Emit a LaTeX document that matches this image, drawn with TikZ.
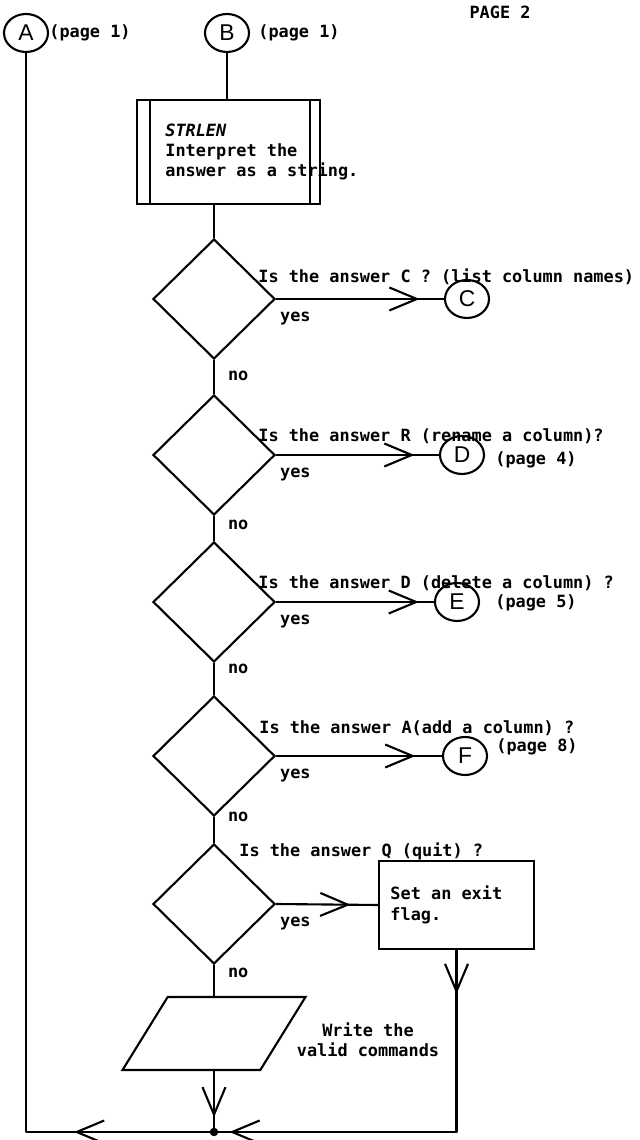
\documentclass[tikz,border=0pt]{standalone}
\usepackage{fontspec}
\setmonofont{DejaVu Sans Mono}
\setsansfont{Liberation Sans}
\usetikzlibrary{shapes.geometric,arrows.meta,decorations.markings}
\tikzset{
  flow/.style={line width=1.2pt, draw=black, line join=round},
  decision/.style={diamond, draw=black, line width=1.2pt, minimum width=2.44cm, minimum height=2.40cm, inner sep=0pt},
  procbox/.style={rectangle, draw=black, line width=1.2pt, minimum width=3.66cm, minimum height=2.08cm},
  actionbox/.style={rectangle, draw=black, line width=1.2pt, minimum width=3.10cm, minimum height=1.76cm, align=left, font=\ttfamily\bfseries\fontsize{9.6}{11.8}\selectfont},
  iobox/.style={trapezium, trapezium left angle=64, trapezium right angle=116, trapezium stretches=true, draw=black, line width=1.2pt, minimum width=3.66cm, minimum height=1.46cm, inner sep=2pt},
  connector/.style={ellipse, draw=black, line width=1.2pt, minimum width=0.88cm, minimum height=0.76cm, inner sep=0pt, font=\sffamily\fontsize{13}{13}\selectfont},
  remark/.style={font=\ttfamily\bfseries\fontsize{9.6}{11.5}\selectfont, inner sep=0pt, align=left},
  yeslabel/.style={remark, anchor=north west, xshift=0.06cm, yshift=-0.24cm},
  nolabel/.style={remark, anchor=west, xshift=0.26cm},
  joindot/.style={circle, fill=black, minimum size=0.17cm, inner sep=0pt},
  >={Straight Barb[length=0.55cm, width=0.46cm]},
  midarrow/.style={postaction={decorate}, decoration={markings, mark=at position #1 with {\arrow{>}}}},
  twoarrows/.style 2 args={postaction={decorate}, decoration={markings, mark=at position #1 with {\arrow{>}}, mark=at position #2 with {\arrow{>}}}},
}

\begin{document}
\begin{tikzpicture}
\useasboundingbox (0,0) rectangle (12.78,22.8);
\node[remark] (pagehead) at (10.00,22.56) {PAGE 2};
% entry connectors
\node[connector] (A) at (0.52,22.14) {A};
\node[remark, anchor=west] (Apage) at (0.98,22.14) {(page 1)};
\node[connector] (B) at (4.54,22.14) {B};
\node[remark, anchor=west] (Bpage) at (5.16,22.14) {(page 1)};
% predefined process
\node[procbox] (strlen) at (4.57,19.76) {};
\draw[flow] ([xshift=0.28cm]strlen.north west) -- ([xshift=0.28cm]strlen.south west);
\draw[flow] ([xshift=-0.22cm]strlen.north east) -- ([xshift=-0.22cm]strlen.south east);
\node[remark, anchor=west] (strlentext) at (3.30,19.76) {\textit{STRLEN}\\Interpret the\\answer as a string.};
% decisions
\node[decision] (d1) at (4.28,16.82) {};
\node[decision] (d2) at (4.28,13.70) {};
\node[decision] (d3) at (4.28,10.76) {};
\node[decision] (d4) at (4.28,7.68) {};
\node[decision] (d5) at (4.28,4.72) {};
\node[remark, anchor=west] (q1) at (5.16,17.27) {Is the answer C ? (list column names)};
\node[remark, anchor=west] (q2) at (5.16,14.08) {Is the answer R (rename a column)?};
\node[remark, anchor=west] (q3) at (5.16,11.14) {Is the answer D (delete a column) ?};
\node[remark, anchor=west] (q4) at (5.18,8.24) {Is the answer A(add a column) ?};
\node[remark, anchor=west] (q5) at (4.78,5.78) {Is the answer Q (quit) ?};
% exit connectors
\node[connector] (C) at (9.34,16.82) {C};
\node[connector] (D) at (9.24,13.70) {D};
\node[remark, anchor=west] (Dpage) at (9.90,13.60) {(page 4)};
\node[connector] (E) at (9.14,10.76) {E};
\node[remark, anchor=west] (Epage) at (9.90,10.74) {(page 5)};
\node[connector] (F) at (9.30,7.68) {F};
\node[remark, anchor=west] (Fpage) at (9.92,7.86) {(page 8)};
\node[actionbox] (exitflag) at (9.13,4.70) {Set an exit\\flag.\phantom{ an exit}};
\node[iobox] (write) at (4.28,2.13) {};
\node[remark, align=center] (writetext) at (7.36,2.00) {Write the\\valid commands};
% connectors
\draw[flow] (B.south) -- (B.south |- strlen.north);
\draw[flow] (d1.north |- strlen.south) -- (d1.north);
\draw[flow, midarrow=0.855] (d1.east) -- node[yeslabel, pos=0] {yes} (C.west);
\draw[flow, midarrow=0.85] (d2.east) -- node[yeslabel, pos=0] {yes} (D.west);
\draw[flow, midarrow=0.905] (d3.east) -- node[yeslabel, pos=0] {yes} (E.west);
\draw[flow, midarrow=0.84] (d4.east) -- node[yeslabel, pos=0] {yes} (F.west);
\draw[flow, midarrow=0.73] (d5.east) -- node[yeslabel, pos=0] {yes} (exitflag.west);
\draw[flow] (d1.south) -- node[nolabel, pos=0.47] {no} (d2.north);
\draw[flow] (d2.south) -- node[nolabel, pos=0.37] {no} (d3.north);
\draw[flow] (d3.south) -- node[nolabel, pos=0.18] {no} (d4.north);
\draw[flow] (d4.south) -- node[nolabel, pos=0] {no} (d5.north);
\draw[flow] (d5.south) -- node[nolabel, pos=0.27] {no} (write.north);
\coordinate (junction) at (4.28,0.16);
\coordinate (rcorner) at (exitflag.south |- junction);
\coordinate (lcorner) at (A.south |- junction);
\draw[flow, midarrow=0.76] (write.south) -- (junction);
\draw[flow, twoarrows={0.88cm}{8.18cm}] (exitflag.south) -- (rcorner) -- (junction);
\draw[flow, midarrow=2.8cm] (junction) -- (lcorner) -- (A.south);
\node[joindot] (jdot) at (junction) {};
\end{tikzpicture}
\end{document}
